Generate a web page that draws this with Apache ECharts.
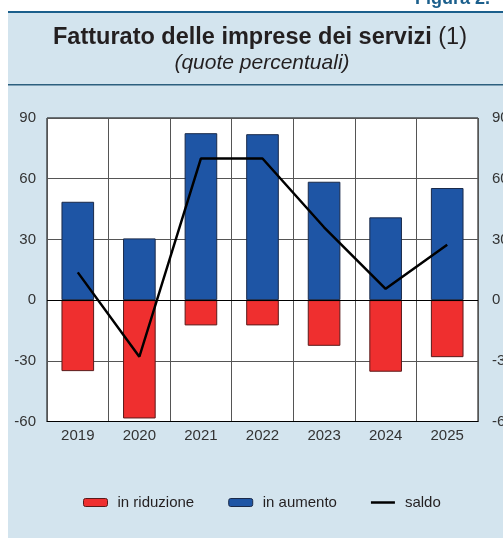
<!DOCTYPE html>
<html>
<head>
<meta charset="utf-8">
<script src="https://cdn.jsdelivr.net/npm/echarts@6/dist/echarts.min.js"></script>
<style>
  html, body { margin: 0; padding: 0; background: #fff; }
  #main { width: 503px; height: 538px; }
</style>
</head>
<body>
<div id="main"></div>
<script>
// dati
var anni = ['2019', '2020', '2021', '2022', '2023', '2024', '2025'];
var inRiduzione = [-35.1, -58.5, -12.5, -12.5, -22.6, -35.4, -28.2];
var inAumento = [48.6, 30.5, 82.5, 82.0, 58.5, 40.9, 55.4];
var saldo = [13.7, -28.0, 70.0, 70.0, 36.0, 5.6, 27.4];
var yTicks = [-60, -30, 0, 30, 60, 90];

var chart = echarts.init(document.getElementById('main'));
var font = 'Liberation Sans, Arial, sans-serif';
var option = {
    animation: false,
    textStyle: { fontFamily: font },
    graphic: [
        { type: 'rect', shape: { x: 8, y: 12, width: 495, height: 526 }, style: { fill: '#d3e4ee' }, z: -10 },
        { type: 'rect', shape: { x: 8, y: 11, width: 495, height: 2 }, style: { fill: '#1b5f8c' }, z: -9 },
        { type: 'rect', shape: { x: 8, y: 84, width: 495, height: 1.5 }, style: { fill: '#2c5f7e' }, z: -9 },
        { type: 'text', x: 415, y: -10, style: { text: 'Figura 2.', fill: '#1b5f8c', font: 'bold 18px ' + font } },
        {
            type: 'text', x: 260, y: 38,
            style: {
                text: '{b|Fatturato delle imprese dei servizi}{n| (1)}',
                align: 'center', verticalAlign: 'middle',
                rich: {
                    b: { fontFamily: font, fontWeight: 'bold', fontSize: 23.5, fill: '#231f20' },
                    n: { fontFamily: font, fontSize: 23.5, fill: '#231f20' }
                }
            }
        },
        {
            type: 'text', x: 262, y: 63,
            style: { text: '(quote percentuali)', align: 'center', verticalAlign: 'middle', font: 'italic 21px ' + font, fill: '#231f20' }
        }
    ],
    grid: {
        left: 47, right: 25, top: 118, height: 303.5, outerBoundsMode: 'none',
        show: true, backgroundColor: '#fff', borderColor: '#000', borderWidth: 1
    },
    legend: {
        top: 495, left: 83, padding: 0, itemGap: 34, itemWidth: 24, itemHeight: 8,
        textStyle: { fontSize: 15, color: '#231f20', fontFamily: font, padding: [0, 0, 0, 5] },
        data: [
            { name: 'in riduzione', itemStyle: { borderColor: '#5a1a1a', borderWidth: 1 } },
            { name: 'in aumento', itemStyle: { borderColor: '#1a2a4a', borderWidth: 1 } },
            { name: 'saldo', icon: 'path://M0,0H24V2.5H0Z', itemStyle: { color: '#000' } }
        ]
    },
    xAxis: {
        type: 'category', data: anni,
        axisLine: { onZero: false, lineStyle: { color: '#000' } },
        axisTick: { show: false },
        axisLabel: { fontSize: 15, color: '#333', margin: 7 },
        splitLine: { show: true, lineStyle: { color: '#555', width: 1 } }
    },
    yAxis: [
        {
            type: 'value', min: -60, max: 90, interval: 30,
            axisLine: { show: false }, axisTick: { show: false },
            axisLabel: { fontSize: 15, color: '#333', margin: 11 },
            splitLine: { lineStyle: { color: '#555', width: 1 } }
        },
        {
            type: 'value', min: -60, max: 90, interval: 30, position: 'right',
            axisLine: { show: false }, axisTick: { show: false },
            axisLabel: { fontSize: 15, color: '#333', margin: 14 },
            splitLine: { show: false }
        }
    ],
    series: [
        {
            name: 'in riduzione', type: 'bar', stack: 'tot', data: inRiduzione, barWidth: '53%',
            itemStyle: { color: '#ef2f2f', borderColor: '#5a1a1a', borderWidth: 1 }
        },
        {
            name: 'in aumento', type: 'bar', stack: 'tot', data: inAumento, barWidth: '53%',
            itemStyle: { color: '#1e55a5', borderColor: '#1a2a4a', borderWidth: 1 }
        },
        {
            name: 'saldo', type: 'line', data: saldo, symbol: 'none', z: 5,
            lineStyle: { color: '#000', width: 2.5 }, itemStyle: { color: '#000' },
            markLine: {
                silent: true, symbol: 'none', label: { show: false },
                lineStyle: { color: '#000', width: 1, type: 'solid' },
                data: [{ yAxis: 0 }]
            }
        }
    ]
};
chart.setOption(option);
</script>
</body>
</html>
